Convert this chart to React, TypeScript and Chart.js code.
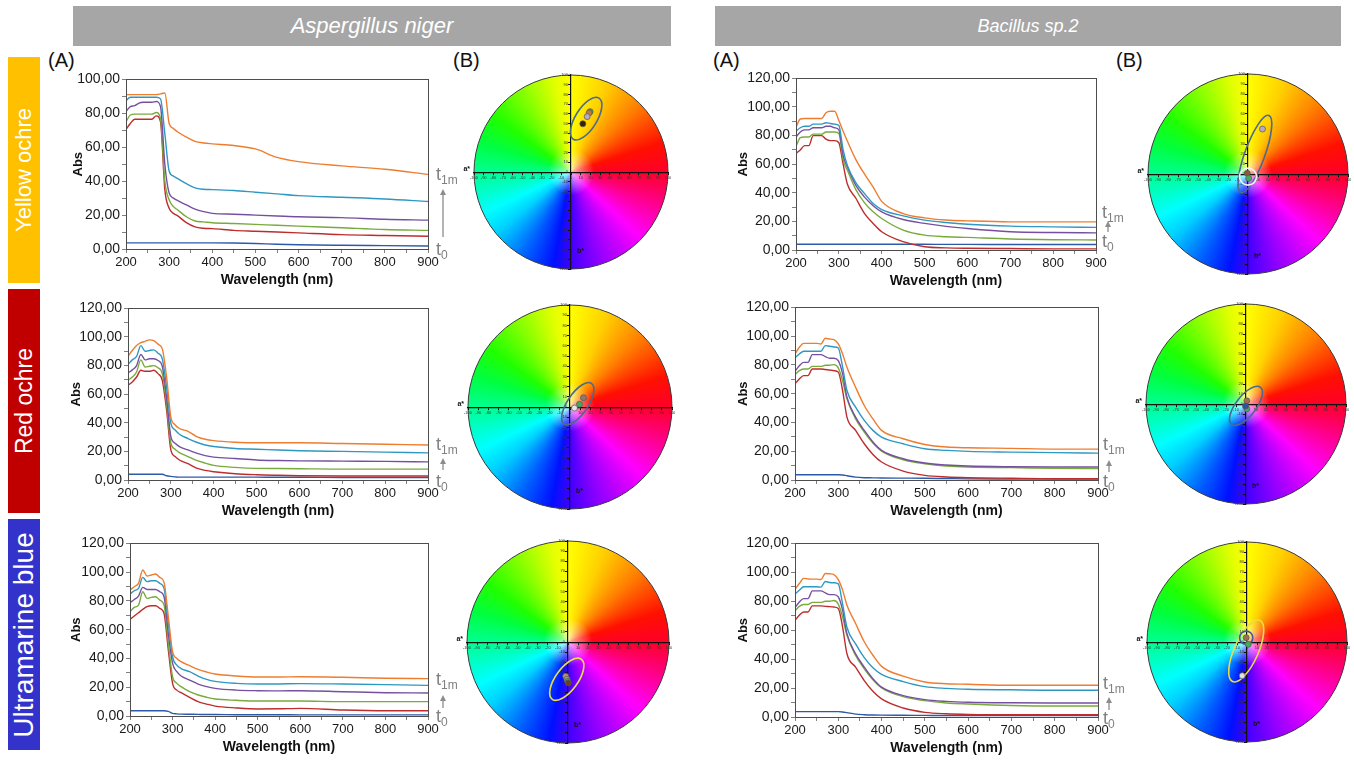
import React, { useEffect, useRef } from 'react';
import { Chart, registerables } from 'chart.js';

Chart.register(...registerables);

const FONT = "'Liberation Sans', Arial, sans-serif";
Chart.defaults.font.family = FONT;

// ---------------- DATA ----------------
const wavelengths = [200, 210, 220, 230, 240, 250, 260, 270, 280, 290, 300, 310, 320, 340, 360, 380, 400, 450, 500, 550, 600, 700, 800, 900];
const seriesColors = ['#ee7d2f', '#2f98c2', '#7650a0', '#79aa3c', '#be2d2d', '#2d5aa8'];
const xTickLabels = [200, 300, 400, 500, 600, 700, 800, 900];

// Aspergillus niger – Yellow ochre
const AN_YO_ORANGE = [91, 91, 91, 91, 91, 91, 91, 91, 91.5, 92, 74, 71, 69, 66, 63.5, 62.5, 62, 61, 59, 54, 51.5, 49, 47, 44];
const AN_YO_TEAL = [87.5, 89.5, 89.5, 89.5, 89.5, 89.5, 89.5, 89.5, 88.5, 68, 46, 43, 41.5, 38.5, 36, 35.2, 35, 34.5, 33.5, 32.5, 31.5, 30.5, 29.5, 28];
const AN_YO_PURPLE = [81, 84, 84.5, 86, 86.5, 86.5, 86.5, 87, 84, 50, 33, 30, 28.5, 26, 23.5, 22, 21, 20.5, 20, 19.5, 19, 18.5, 17.5, 17];
const AN_YO_GREEN = [75, 79, 79.5, 79.5, 79.5, 79.5, 79.5, 80.5, 77, 40, 29, 25, 23, 19, 16.5, 16, 15.5, 15, 14.5, 14, 13.5, 12.5, 11.5, 11];
const AN_YO_RED = [70.5, 74, 76.5, 76.5, 76.5, 76.5, 76.5, 78.5, 75, 35, 24, 21, 19.5, 15.5, 13, 12.2, 12, 11, 10.5, 10, 9.5, 8.5, 8, 7.5];
const AN_YO_BLUE = [3.6, 3.6, 3.6, 3.6, 3.6, 3.6, 3.6, 3.6, 3.6, 3.6, 3.6, 3.6, 3.6, 3.6, 3.6, 3.6, 3.6, 3.5, 3.2, 2.8, 2.5, 2.2, 2.0, 1.8];

// Bacillus sp.2 – Yellow ochre
const BS_YO_ORANGE = [85.8, 91.6, 92, 92, 92, 92, 92, 96, 97, 97, 90.5, 83, 76, 63, 53, 44, 34, 25.5, 22.5, 21, 20.4, 19.7, 19.7, 19.7];
const BS_YO_TEAL = [83, 85.5, 86.5, 86.5, 88, 88, 88, 89, 88.5, 88, 87, 70, 59, 47, 39.4, 32.5, 28.3, 23.9, 20.9, 19.2, 18, 16.7, 16.2, 15.8];
const BS_YO_PURPLE = [79, 82.5, 84, 84, 85.5, 85.5, 85.5, 86.5, 86.5, 85.5, 84, 66, 58, 45, 37, 31, 26.7, 21.3, 18.6, 16.5, 15, 12.8, 12.2, 12];
const BS_YO_GREEN = [72.5, 78.5, 79, 79, 81, 81, 81, 82.5, 82.5, 82.5, 81.5, 63, 55.7, 42, 33, 26.7, 22, 13.9, 10.4, 9.3, 8.8, 7.7, 7.2, 7];
const BS_YO_RED = [67.5, 70, 73, 73, 80, 80, 80, 77.5, 76.5, 76.5, 75, 60, 46, 36, 25.5, 18.6, 12.8, 5.8, 2.3, 1.5, 1.2, 1, 0.8, 0.8];
const BS_YO_BLUE = [4, 4, 4, 4, 4, 4, 4, 4, 4, 4, 4, 4, 4, 4, 4, 4, 4, 4, 4, 3.9, 3.9, 3.8, 3.8, 3.8];

// Aspergillus niger – Red ochre
const AN_RO_ORANGE = [86.4, 90.6, 94, 96, 97, 98, 97.5, 95, 91.7, 72, 44, 38.5, 36, 34, 30.4, 28.5, 27.5, 26.4, 26, 26, 26, 25.5, 25, 24.5];
const AN_RO_TEAL = [80.8, 84, 86.4, 94, 90, 90.6, 91, 88.7, 84.8, 65, 39.6, 35, 32, 29, 26.4, 24.5, 23.4, 22, 21.5, 21, 20.5, 20, 19.5, 19];
const AN_RO_PURPLE = [74.8, 77, 80, 87.8, 84, 84.8, 84.8, 83.6, 79.5, 58, 30.3, 25.7, 23.4, 21, 18.8, 17, 16, 15, 14, 13.6, 13.4, 13.2, 13, 12.7];
const AN_RO_GREEN = [69.7, 72, 75.5, 84, 79, 79.5, 80, 78.5, 74.4, 53.5, 25.7, 21.5, 19.2, 16.4, 13.7, 11.8, 10.2, 8.8, 8.1, 8, 7.9, 7.6, 7.6, 7.6];
const AN_RO_RED = [66.2, 68.6, 72, 76.7, 76, 76, 76.7, 74.4, 69.7, 49, 21, 16.4, 14, 11.4, 8.3, 6.7, 5.8, 4.4, 3.7, 3.3, 3, 2.8, 2.8, 2.8];
const AN_RO_BLUE = [4, 4, 4, 4, 4, 4, 4, 4, 4, 3, 2.5, 2.2, 2, 2, 2, 2, 2, 2, 2, 1.9, 1.9, 1.8, 1.8, 1.8];

// Bacillus sp.2 – Red ochre
const BS_RO_ORANGE = [87.6, 92.3, 95, 95, 95, 95, 94.6, 98.5, 98, 97.6, 94.6, 87.6, 78.4, 64.5, 51.8, 42.5, 34.5, 28.7, 24.7, 22.9, 22.4, 22, 21.5, 21.5];
const BS_RO_TEAL = [84.9, 87.6, 89.5, 89.5, 89.5, 89.5, 89.5, 93.4, 93, 92.5, 91.8, 78.4, 62.2, 50.6, 41.4, 34.5, 29.8, 25.2, 21.7, 20.6, 19.9, 19.4, 19, 18.7];
const BS_RO_PURPLE = [75.6, 79.5, 81.8, 81.8, 87.2, 87.2, 87.2, 85.8, 84.6, 84.6, 83, 73.8, 57.6, 43.7, 34.5, 26.4, 20.6, 14.8, 11.8, 10.4, 9.7, 9.2, 9, 9];
const BS_RO_GREEN = [73.3, 76, 77.2, 77.2, 79, 79, 79, 79.8, 79.8, 80.2, 78, 69, 56.4, 42.5, 33.3, 25.7, 20.1, 14.1, 11.3, 9.7, 9, 8.6, 8.1, 7.9];
const BS_RO_RED = [66.8, 70.3, 72.6, 72.6, 77.2, 77.2, 77.2, 76.8, 76.5, 76, 75, 62.2, 43.7, 34.5, 25.2, 17.8, 12.5, 6.2, 3.2, 2.1, 1.6, 1.2, 0.9, 0.9];
const BS_RO_BLUE = [3.7, 3.7, 3.7, 3.7, 3.7, 3.7, 3.7, 3.7, 3.7, 3.7, 3.7, 3.5, 3, 2, 1.6, 1.5, 1.4, 1.3, 1.2, 1, 0.8, 0.7, 0.6, 0.6];

// Aspergillus niger – Ultramarine blue
const AN_UB_ORANGE = [87.6, 89.9, 92.2, 101.5, 97.3, 98, 98.7, 96.4, 92.9, 69, 44.7, 40, 37.8, 35, 32.4, 30.6, 29.2, 27.8, 27.1, 27.1, 27.3, 26.9, 26.2, 26];
const AN_UB_TEAL = [84.8, 87.1, 88.7, 96.4, 93.4, 94, 94, 92.2, 88.7, 64.4, 41.2, 35.4, 33, 30.8, 27.8, 25.5, 24.1, 22.7, 22.2, 22.3, 22.5, 22.2, 21.8, 21.3];
const AN_UB_PURPLE = [78.8, 81, 83.4, 89.4, 88, 88, 88, 86.4, 82.9, 57.4, 36.6, 30.8, 27.8, 25, 22.2, 20.4, 19.2, 18, 17.6, 17.5, 17.6, 16.9, 16.2, 16];
const AN_UB_GREEN = [72.5, 75.5, 77.1, 86.4, 81.8, 82.5, 82.9, 80.6, 77.1, 50.5, 27.3, 22.7, 20.4, 16.9, 14.6, 13, 11.8, 10.9, 10.4, 10.4, 10.4, 10, 10, 10];
const AN_UB_RED = [67.2, 69.5, 71.8, 74.1, 76, 76.7, 76.7, 74.8, 71.3, 45.9, 22.7, 18, 16.2, 13, 10, 8.3, 6.9, 5.6, 4.9, 5, 5.3, 4.2, 3.7, 3.7];
const AN_UB_BLUE = [3.7, 3.7, 3.7, 3.7, 3.7, 3.7, 3.7, 3.7, 3.7, 3.2, 1.8, 1.5, 1.3, 1.2, 1.1, 1, 1, 0.9, 0.9, 0.9, 0.8, 0.8, 0.8, 0.8];

// Bacillus sp.2 – Ultramarine blue
const BS_UB_ORANGE = [88.2, 92.3, 95.8, 95.5, 95.3, 95.3, 95, 99.2, 99, 98.5, 95, 87.7, 77.3, 64.6, 52, 42.7, 35, 28.2, 24.2, 23, 22.6, 21.9, 21.9, 21.9];
const BS_UB_TEAL = [85, 87.6, 90, 90, 90, 90, 89.8, 93.7, 93, 92.8, 92, 78, 62, 50.5, 41, 34, 29.5, 24.5, 21, 19.8, 19.2, 18.8, 18.5, 18.5];
const BS_UB_PURPLE = [75.6, 79.5, 81.8, 81.8, 87.2, 87.2, 87.2, 85.8, 84.6, 84.6, 83, 73.8, 57.6, 43.7, 34.5, 26.4, 20.6, 14.8, 12, 10.8, 10.2, 9.8, 9.7, 9.7];
const BS_UB_GREEN = [73.3, 76.5, 77.8, 77.8, 79.2, 79.2, 79.2, 80, 80, 80.5, 78, 69, 56.4, 42.5, 33.3, 25.7, 20.1, 14.1, 11.3, 9.7, 9, 8, 7.6, 7.6];
const BS_UB_RED = [66.8, 70.3, 72.6, 72.6, 76.8, 76.8, 76.8, 76.5, 76.3, 76, 75, 62.2, 43.7, 34.5, 25.2, 17.8, 12.5, 6.2, 3.2, 2.2, 1.8, 1.6, 1.6, 1.6];
const BS_UB_BLUE = [3.7, 3.7, 3.7, 3.7, 3.7, 3.7, 3.7, 3.7, 3.7, 3.7, 3.7, 3.5, 3, 2, 1.6, 1.4, 1.3, 1.2, 1.1, 1, 1, 1, 1, 1];

// CIELAB a*b* points (a*, b*) and colours
const W1_A = [19.7, 18.7, 16.7, 12.2];
const W1_B = [62.2, 60.9, 57.1, 49.7];
const W1_C = ['#3fae5a', '#c47a3e', '#b4aac8', '#3a2012'];
const W2_A = [14.5, -0.7, 0.7];
const W2_B = [45, 0.7, -4.3];
const W2_C = ['#b4aac2', '#8b5a3c', '#3fae5a'];
const W3_A = [13.2, 9.3, 4.4];
const W3_B = [9.1, 2.6, -1];
const W3_C = ['#8a7a6a', '#3fae5a', '#e6e6e6'];
const W4_A = [0.8, 0.8, -0.5];
const W4_B = [3.2, -4.8, -2];
const W4_C = ['#a0704a', '#3fae5a', '#3050a0'];
const W5_A = [-2.3, -1, -0.3, 0.3];
const W5_B = [-33.9, -37, -38.9, -40.5];
const W5_C = ['#b89070', '#a0a0a0', '#3fae5a', '#6a4020'];
const W6_A = [-0.8, 1.2, -4.8];
const W6_B = [4.3, -2.3, -33.7];
const W6_C = ['#a0704a', '#3fae5a', '#e2e2e2'];

// confidence ellipses: [a*, b*, semi-major, semi-minor, angle°]
const W1_ELL = [[15.6, 55, 25, 11, 58]];
const W2_ELL = [[6.9, 20, 41, 10, 70], [0, -2.6, 8.5, 8.5, 0]];
const W3_ELL = [[7.6, 3.3, 24, 10, 56]];
const W4_ELL = [[0, -1.8, 23.5, 10, 52]];
const W5_ELL = [[-1.2, -36.9, 24.5, 11, 54]];
const W6_ELL = [[-0.8, -8.9, 33.5, 12, 66], [-0.8, 4.3, 6.6, 6.6, 0]];
const W1_ELL_C = ['#4b6a8c'];
const W2_ELL_C = ['#4b6a8c', '#f2f2f2'];
const W3_ELL_C = ['#4b6a8c'];
const W4_ELL_C = ['#4b6a8c'];
const W5_ELL_C = ['#e8dc4a'];
const W6_ELL_C = ['#e8dc4a', '#3d5c9c'];

// hue wheel stops, clockwise from top (b*+)
const HUE_POS = [0, 0.06, 0.125, 0.2, 0.25, 0.3, 0.37, 0.45, 0.5, 0.53, 0.58, 0.64, 0.68, 0.75, 0.8, 0.85, 0.92, 0.97, 1];
const HUE_COL = ['#ffff00', '#ffd000', '#ff8000', '#ff1000', '#ff0028', '#ff0080', '#ff00ff', '#9000ff', '#4000ff', '#0010ff', '#0060ff', '#00d0ff', '#00ffff', '#00ff90', '#00ff40', '#20ff00', '#90ff00', '#e0ff00', '#ffff00'];

// ---------------- COMPONENTS ----------------
const framePlugin = {
  id: 'frame',
  afterDraw(chart: any) {
    const { ctx, chartArea } = chart;
    ctx.save();
    ctx.strokeStyle = '#4d4d4d';
    ctx.lineWidth = 1;
    ctx.strokeRect(Math.round(chartArea.left) + 0.5, Math.round(chartArea.top) + 0.5, Math.round(chartArea.right - chartArea.left), Math.round(chartArea.bottom - chartArea.top));
    ctx.restore();
  },
};

function Spectrum(props: { series: number[][]; yMax: number; l: number; t: number; r: number; b: number; yw: number }) {
  const { series, yMax, l, t, r, b, yw } = props;
  const ref = useRef<HTMLCanvasElement>(null);
  const padTop = 10;
  const padRight = 14;
  const xh = 44;
  const width = r - l + yw + padRight;
  const height = b - t + padTop + xh;
  useEffect(() => {
    const chart = new Chart(ref.current as HTMLCanvasElement, {
      type: 'line',
      data: {
        datasets: series.map((s, i) => ({
          data: wavelengths.map((w, j) => ({ x: w, y: s[j] })),
          borderColor: seriesColors[i],
          borderWidth: 1.4,
          pointRadius: 0,
          cubicInterpolationMode: 'monotone',
          fill: false,
        })),
      },
      options: {
        responsive: false,
        animation: false,
        devicePixelRatio: 1,
        layout: { padding: { top: padTop, right: padRight, left: 0, bottom: 0 } },
        plugins: { legend: { display: false }, tooltip: { enabled: false } },
        scales: {
          x: {
            type: 'linear',
            min: 200,
            max: 900,
            afterFit: (s: any) => { s.height = xh; },
            ticks: {
              stepSize: 50,
              autoSkip: false,
              maxRotation: 0,
              padding: 2,
              color: '#1a1a1a',
              font: { size: 13, family: FONT },
              callback: (v: any) => (xTickLabels.includes(Number(v)) ? String(v) : ''),
            },
            grid: { drawOnChartArea: false, tickLength: 4, color: '#808080' },
            border: { color: '#4d4d4d' },
            title: { display: true, text: 'Wavelength (nm)', color: '#111', font: { size: 14, weight: 'bold', family: FONT }, padding: { top: 0, bottom: 4 } },
          },
          y: {
            min: 0,
            max: yMax,
            afterFit: (s: any) => { s.width = yw; },
            ticks: {
              stepSize: 10,
              autoSkip: false,
              padding: 2,
              color: '#1a1a1a',
              font: { size: 14, family: FONT },
              callback: (v: any) => (Number(v) % 20 === 0 ? Number(v).toFixed(2).replace('.', ',') : ''),
            },
            grid: { drawOnChartArea: false, tickLength: 4, color: '#808080' },
            border: { color: '#4d4d4d' },
            title: { display: true, text: 'Abs', color: '#111', font: { size: 13, weight: 'bold', family: FONT }, padding: { top: 4, bottom: 0 } },
          },
        },
      } as any,
      plugins: [framePlugin],
    });
    return () => chart.destroy();
  }, []);
  return <canvas ref={ref} width={width} height={height} style={{ position: 'absolute', left: l - yw, top: t - padTop, width, height }} />;
}

function Wheel(props: { cx: number; cy: number; r: number; a: number[]; b: number[]; c: string[]; ell: number[][]; ellC: string[] }) {
  const { cx, cy, r, a, b, c, ell, ellC } = props;
  const ref = useRef<HTMLCanvasElement>(null);
  const pad = 18;
  const size = 2 * r + 2 * pad;
  useEffect(() => {
    const wheelPlugin = {
      id: 'wheel',
      beforeDraw(chart: any) {
        const { ctx } = chart;
        const xs = chart.scales.x;
        const ys = chart.scales.y;
        const x0 = xs.getPixelForValue(0);
        const y0 = ys.getPixelForValue(0);
        const rp = xs.getPixelForValue(100) - x0;
        ctx.save();
        const g = ctx.createConicGradient(-Math.PI / 2, x0, y0);
        HUE_POS.forEach((p, i) => g.addColorStop(p, HUE_COL[i]));
        ctx.beginPath();
        ctx.arc(x0, y0, rp, 0, Math.PI * 2);
        ctx.fillStyle = g;
        ctx.fill();
        const rg = ctx.createRadialGradient(x0, y0, 0, x0, y0, rp * 0.24);
        rg.addColorStop(0, 'rgba(255,255,255,0.7)');
        rg.addColorStop(1, 'rgba(255,255,255,0)');
        ctx.fillStyle = rg;
        ctx.fill();
        ctx.strokeStyle = '#3a3a3a';
        ctx.lineWidth = 1;
        ctx.stroke();
        ctx.fillStyle = '#111';
        ctx.font = `bold 7px ${FONT}`;
        ctx.textAlign = 'right';
        ctx.textBaseline = 'middle';
        ctx.fillText('a*', x0 - rp - 4, y0 - 3);
        ctx.textAlign = 'left';
        ctx.fillText('b*', x0 + 6, y0 + rp * 0.82);
        ctx.restore();
      },
      beforeDatasetsDraw(chart: any) {
        const { ctx } = chart;
        const xs = chart.scales.x;
        const ys = chart.scales.y;
        const k = (xs.getPixelForValue(100) - xs.getPixelForValue(0)) / 100;
        ctx.save();
        ell.forEach((e, i) => {
          ctx.beginPath();
          ctx.ellipse(xs.getPixelForValue(e[0]), ys.getPixelForValue(e[1]), e[2] * k, e[3] * k, (-e[4] * Math.PI) / 180, 0, Math.PI * 2);
          ctx.strokeStyle = ellC[i];
          ctx.lineWidth = 1.6;
          ctx.stroke();
        });
        ctx.restore();
      },
    };
    const axis = () => ({
      type: 'linear',
      position: 'center',
      min: -100,
      max: 100,
      ticks: { stepSize: 10, autoSkip: false, maxRotation: 0, padding: 1, color: '#333', font: { size: 4, family: FONT } },
      grid: { drawOnChartArea: false, tickLength: 2, color: '#111' },
      border: { color: '#111', width: 1.2 },
    });
    const chart = new Chart(ref.current as HTMLCanvasElement, {
      type: 'scatter',
      data: {
        datasets: [
          {
            data: a.map((v, i) => ({ x: v, y: b[i] })),
            pointBackgroundColor: c,
            pointBorderColor: '#555',
            pointBorderWidth: 0.7,
            pointRadius: 3,
          },
        ],
      },
      options: {
        responsive: false,
        animation: false,
        devicePixelRatio: 1,
        layout: { padding: pad },
        plugins: { legend: { display: false }, tooltip: { enabled: false } },
        scales: { x: axis(), y: axis() },
      } as any,
      plugins: [wheelPlugin],
    });
    return () => chart.destroy();
  }, []);
  return <canvas ref={ref} width={size} height={size} style={{ position: 'absolute', left: cx - r - pad, top: cy - r - pad, width: size, height: size }} />;
}

function Arrow(props: { x: number; top: number; bottom: number }) {
  const { x, top, bottom } = props;
  return (
    <svg style={{ position: 'absolute', left: x - 5, top: top - 1, overflow: 'visible' }} width={10} height={bottom - top + 2}>
      <line x1={5} y1={4} x2={5} y2={bottom - top + 1} stroke="#8c8c8c" strokeWidth={1.3} />
      <polygon points="5,0 2,6 8,6" fill="#8c8c8c" />
    </svg>
  );
}

function TLabels(props: { x: number; t1: number; a0: number; a1: number; t0: number; ax: number }) {
  const { x, t1, a0, a1, t0, ax } = props;
  const base: React.CSSProperties = { position: 'absolute', left: x, color: '#808080', fontSize: 18, lineHeight: '18px', whiteSpace: 'nowrap' };
  return (
    <>
      <div style={{ ...base, top: t1 }}>
        t<sub style={{ fontSize: 12, verticalAlign: -4 }}>1m</sub>
      </div>
      <Arrow x={ax} top={a0} bottom={a1} />
      <div style={{ ...base, top: t0 }}>
        t<sub style={{ fontSize: 12, verticalAlign: -4 }}>0</sub>
      </div>
    </>
  );
}

function SideLabel(props: { top: number; height: number; color: string; text: string; size: number }) {
  const { top, height, color, text, size } = props;
  return (
    <div style={{ position: 'absolute', left: 8, top, width: 32, height, background: color }}>
      <div
        style={{
          position: 'absolute',
          left: 16,
          top: height / 2,
          transform: 'translate(-50%, -50%) rotate(-90deg)',
          color: '#fff',
          fontSize: size,
          whiteSpace: 'nowrap',
          lineHeight: 1,
        }}
      >
        {text}
      </div>
    </div>
  );
}

function Header(props: { left: number; width: number; text: string; size: number }) {
  const { left, width, text, size } = props;
  return (
    <div
      style={{
        position: 'absolute',
        left,
        top: 6,
        width,
        height: 40,
        background: '#a6a6a6',
        color: '#fff',
        fontStyle: 'italic',
        fontSize: size,
        display: 'flex',
        alignItems: 'center',
        justifyContent: 'center',
      }}
    >
      {text}
    </div>
  );
}

const letter: React.CSSProperties = { position: 'absolute', top: 49, fontSize: 20, color: '#111' };

export default function App() {
  return (
    <div style={{ position: 'absolute', left: 0, top: 0, width: 1354, height: 761, background: '#fff', overflow: 'hidden', fontFamily: FONT }}>
      <Header left={73} width={598} text="Aspergillus niger" size={22} />
      <Header left={715} width={626} text="Bacillus sp.2" size={18} />

      <SideLabel top={57} height={226} color="#ffc000" text="Yellow ochre" size={22} />
      <SideLabel top={289} height={224} color="#c00000" text="Red ochre" size={23} />
      <SideLabel top={519} height={231} color="#3333cc" text="Ultramarine blue" size={28} />

      <div style={{ ...letter, left: 48 }}>(A)</div>
      <div style={{ ...letter, left: 453 }}>(B)</div>
      <div style={{ ...letter, left: 713 }}>(A)</div>
      <div style={{ ...letter, left: 1116 }}>(B)</div>

      <Spectrum series={[AN_YO_ORANGE, AN_YO_TEAL, AN_YO_PURPLE, AN_YO_GREEN, AN_YO_RED, AN_YO_BLUE]} yMax={100} l={126} t={79} r={428} b={249} yw={59} />
      <Spectrum series={[BS_YO_ORANGE, BS_YO_TEAL, BS_YO_PURPLE, BS_YO_GREEN, BS_YO_RED, BS_YO_BLUE]} yMax={120} l={796} t={78} r={1096} b={250} yw={64} />
      <Spectrum series={[AN_RO_ORANGE, AN_RO_TEAL, AN_RO_PURPLE, AN_RO_GREEN, AN_RO_RED, AN_RO_BLUE]} yMax={120} l={128} t={308} r={428} b={480} yw={63} />
      <Spectrum series={[BS_RO_ORANGE, BS_RO_TEAL, BS_RO_PURPLE, BS_RO_GREEN, BS_RO_RED, BS_RO_BLUE]} yMax={120} l={795} t={307} r={1098} b={480} yw={63} />
      <Spectrum series={[AN_UB_ORANGE, AN_UB_TEAL, AN_UB_PURPLE, AN_UB_GREEN, AN_UB_RED, AN_UB_BLUE]} yMax={120} l={130} t={543} r={428} b={716} yw={65} />
      <Spectrum series={[BS_UB_ORANGE, BS_UB_TEAL, BS_UB_PURPLE, BS_UB_GREEN, BS_UB_RED, BS_UB_BLUE]} yMax={120} l={795} t={543} r={1098} b={717} yw={63} />

      <TLabels x={436} t1={165} ax={443} a0={190} a1={237} t0={240} />
      <TLabels x={1102} t1={203} ax={1108} a0={222} a1={232} t0={232} />
      <TLabels x={436} t1={435} ax={443} a0={459} a1={470} t0={472} />
      <TLabels x={1103} t1={435} ax={1109} a0={461} a1={472} t0={472} />
      <TLabels x={436} t1={670} ax={443} a0={696} a1={708} t0={707} />
      <TLabels x={1103} t1={674} ax={1109} a0={698} a1={710} t0={709} />

      <Wheel cx={571} cy={172} r={97} a={W1_A} b={W1_B} c={W1_C} ell={W1_ELL} ellC={W1_ELL_C} />
      <Wheel cx={1248} cy={174} r={100} a={W2_A} b={W2_B} c={W2_C} ell={W2_ELL} ellC={W2_ELL_C} />
      <Wheel cx={570} cy={407} r={102} a={W3_A} b={W3_B} c={W3_C} ell={W3_ELL} ellC={W3_ELL_C} />
      <Wheel cx={1246} cy={404} r={100} a={W4_A} b={W4_B} c={W4_C} ell={W4_ELL} ellC={W4_ELL_C} />
      <Wheel cx={568} cy={642} r={101} a={W5_A} b={W5_B} c={W5_C} ell={W5_ELL} ellC={W5_ELL_C} />
      <Wheel cx={1247} cy={642} r={100} a={W6_A} b={W6_B} c={W6_C} ell={W6_ELL} ellC={W6_ELL_C} />
    </div>
  );
}
